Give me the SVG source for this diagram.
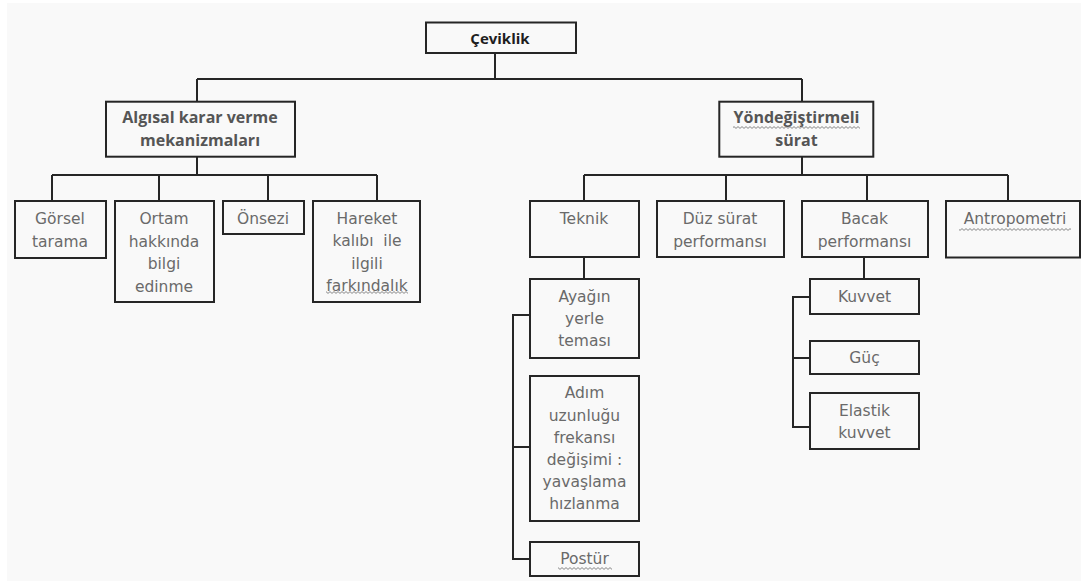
<svg xmlns="http://www.w3.org/2000/svg" width="1081" height="581" viewBox="0 0 1081 581">
  <defs>
    <pattern id="wave" x="0" y="0" width="4" height="3" patternUnits="userSpaceOnUse">
      <path d="M0,2.4 L2,0.6 L4,2.4" fill="none" stroke="#7a7a7a" stroke-width="0.9"/>
    </pattern>
  </defs>
  <style>
    .box { fill: none; stroke: #262626; stroke-width: 2; }
    .con { fill: none; stroke: #262626; stroke-width: 2; }
    .t { font-family: "DejaVu Sans", "Liberation Sans", sans-serif; font-size: 15.5px; fill: #6a6a6a; text-anchor: middle; }
    .b { font-family: "Open Sans", "Liberation Sans", sans-serif; font-weight: 700; font-size: 16px; fill: #555555; text-anchor: middle; }
    .root { font-size: 15px; fill: #1e1e1e; }
    .sq { fill: url(#wave); }
  </style>
  <rect x="0" y="0" width="1081" height="581" fill="#ffffff"/>
  <rect x="7" y="3" width="1074" height="578" fill="#f9f9f9"/>

  <g id="connectors">
    <path class="con" d="M495,53 V79 M197,79 H802 M197,79 V101.7 M802,79 V101.7"/>
    <path class="con" d="M197,156.7 V175 M52,175 H377 M52,175 V201 M159,175 V201 M268,175 V201 M377,175 V201"/>
    <path class="con" d="M802,156.7 V175 M584,175 H1008 M584,175 V201 M726,175 V201 M867,175 V201 M1008,175 V201"/>
    <path class="con" d="M584,257 V279 M530,315 H513 V559 H530 M513,447 H530"/>
    <path class="con" d="M864,257 V279 M810,297 H793 V427 H810 M793,358 H810"/>
  </g>

  <g id="ceviklik">
    <rect class="box" x="426" y="22.5" width="150" height="30.5"/>
    <text class="b root" x="500" y="43.5">Çeviklik</text>
  </g>

  <g id="algisal">
    <rect class="box" x="106" y="101.7" width="189" height="55"/>
    <text class="b" x="200" y="123">Algısal karar verme</text>
    <text class="b" x="200" y="146">mekanizmaları</text>
  </g>

  <g id="yondegistirmeli">
    <rect class="box" x="719.3" y="101.7" width="154" height="55"/>
    <text class="b" x="796.5" y="123" fill="#444444">Yöndeğiştirmeli</text>
    <rect class="sq" x="733" y="126" width="127" height="3"/>
    <text class="b" x="796.5" y="145.5">sürat</text>
  </g>

  <g id="gorsel">
    <rect class="box" x="15" y="201" width="91" height="57"/>
    <text class="t" x="60" y="224">Görsel</text>
    <text class="t" x="60" y="246.5">tarama</text>
  </g>

  <g id="ortam">
    <rect class="box" x="115" y="201" width="99" height="101"/>
    <text class="t" x="164" y="224">Ortam</text>
    <text class="t" x="164" y="246.5">hakkında</text>
    <text class="t" x="164" y="269">bilgi</text>
    <text class="t" x="164" y="291.5">edinme</text>
  </g>

  <g id="onsezi">
    <rect class="box" x="223" y="201" width="81" height="33"/>
    <text class="t" x="263" y="224">Önsezi</text>
  </g>

  <g id="hareket">
    <rect class="box" x="313" y="201" width="107" height="101"/>
    <text class="t" x="367" y="224">Hareket</text>
    <text class="t" x="367" y="246.3">kalıbı&#160; ile</text>
    <text class="t" x="367" y="268.6">ilgili</text>
    <text class="t" x="367" y="290.9">farkındalık</text>
    <rect class="sq" x="326" y="291" width="82" height="3"/>
  </g>

  <g id="teknik">
    <rect class="box" x="530" y="201" width="109" height="56"/>
    <text class="t" x="584" y="224">Teknik</text>
  </g>

  <g id="duz-surat">
    <rect class="box" x="657" y="201" width="127" height="56"/>
    <text class="t" x="720" y="224">Düz sürat</text>
    <text class="t" x="720" y="246.5">performansı</text>
  </g>

  <g id="bacak">
    <rect class="box" x="802" y="201" width="126" height="56"/>
    <text class="t" x="864.5" y="224">Bacak</text>
    <text class="t" x="864.5" y="246.5">performansı</text>
  </g>

  <g id="antropometri">
    <rect class="box" x="946" y="201" width="134" height="56.5"/>
    <text class="t" x="1015" y="224">Antropometri</text>
    <rect class="sq" x="959" y="228" width="112" height="3"/>
  </g>

  <g id="ayagin">
    <rect class="box" x="530" y="279" width="109" height="79"/>
    <text class="t" x="584.5" y="301.5">Ayağın</text>
    <text class="t" x="584.5" y="323.8">yerle</text>
    <text class="t" x="584.5" y="346">teması</text>
  </g>

  <g id="adim">
    <rect class="box" x="530" y="376" width="109" height="145"/>
    <text class="t" x="584.5" y="398.3">Adım</text>
    <text class="t" x="584.5" y="420.5">uzunluğu</text>
    <text class="t" x="584.5" y="442.7">frekansı</text>
    <text class="t" x="584.5" y="464.9">değişimi :</text>
    <text class="t" x="584.5" y="487.1">yavaşlama</text>
    <text class="t" x="584.5" y="509.3">hızlanma</text>
  </g>

  <g id="postur">
    <rect class="box" x="530" y="542" width="109" height="34"/>
    <text class="t" x="584.5" y="564">Postür</text>
    <rect class="sq" x="558" y="567" width="54" height="3"/>
  </g>

  <g id="kuvvet">
    <rect class="box" x="810" y="279" width="109" height="35"/>
    <text class="t" x="864.5" y="301.7">Kuvvet</text>
  </g>

  <g id="guc">
    <rect class="box" x="810" y="341" width="109" height="33"/>
    <text class="t" x="864.5" y="363.3">Güç</text>
  </g>

  <g id="elastik">
    <rect class="box" x="810" y="393" width="109" height="56"/>
    <text class="t" x="864.5" y="415.7">Elastik</text>
    <text class="t" x="864.5" y="438.3">kuvvet</text>
  </g>
</svg>
